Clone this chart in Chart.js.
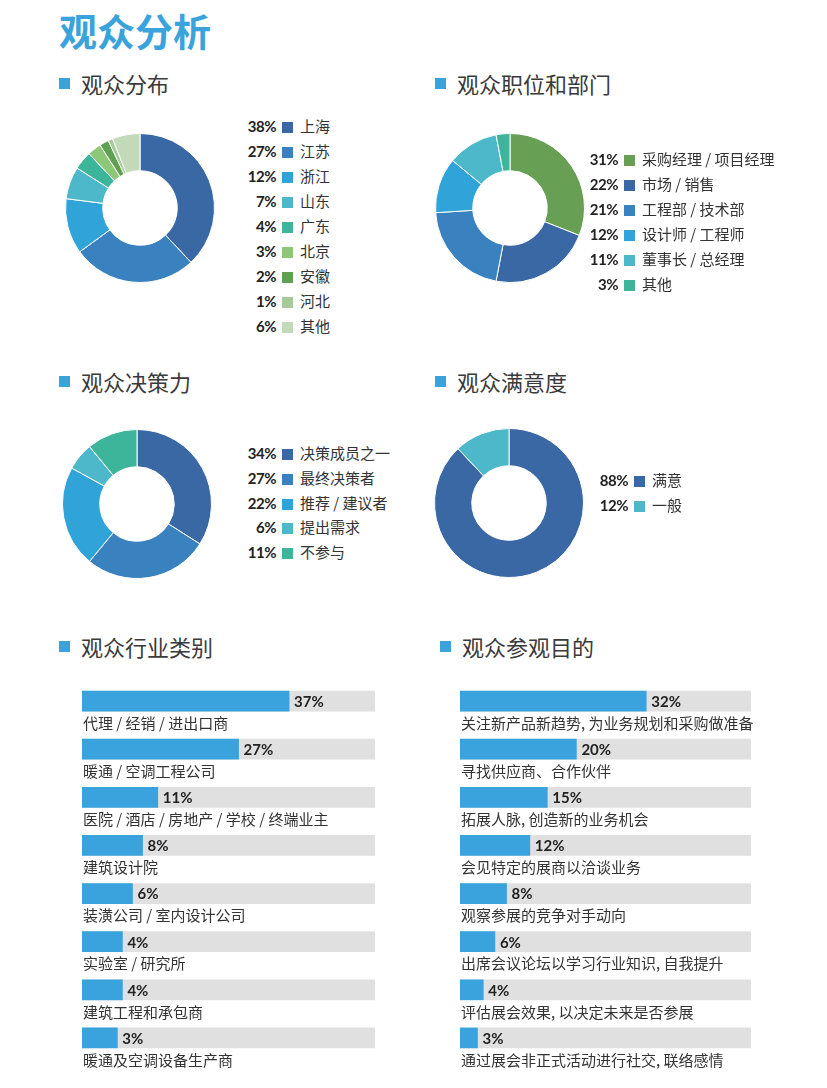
<!DOCTYPE html>
<html lang="zh-CN">
<head>
    <meta charset="UTF-8">
    <title>观众分析</title>
    <script src="https://cdn.jsdelivr.net/npm/chart.js"></script>
    <style>
        body { margin: 0; background: #fff; font-family: "Noto Sans CJK SC", "Noto Sans", sans-serif; color: #333; }
        #page { position: relative; width: 827px; height: 1088px; overflow: hidden; }
        .title { position: absolute; left: 59px; top: 11px; font-size: 38px; line-height: 38px; font-weight: 700; color: #3ba3dc; }
        .head { position: absolute; font-size: 22px; line-height: 22px; color: #3a3a3a; white-space: nowrap; }
        .head::before { content: ""; position: absolute; left: -22px; top: 6px; width: 11px; height: 11px; background: #3ba3dc; }
        .row { position: absolute; height: 20px; line-height: 20px; white-space: nowrap; font-size: 15px; }
        .row .pct { display: inline-block; width: 60px; text-align: right; font-family: Lato, sans-serif; font-weight: 700; color: #222; letter-spacing: -0.5px; }
        .row .sw { display: inline-block; width: 11px; height: 11px; margin-left: 6px; vertical-align: -1px; }
        .row .lab { margin-left: 7px; color: #333; }
        canvas { position: absolute; }
    </style>
</head>
<body>
<div id="page">
    <div class="title">观众分析</div>

    <div class="head" style="left:81px; top:72px;">观众分布</div>
    <div class="head" style="left:457px; top:72px;">观众职位和部门</div>
    <div class="head" style="left:81px; top:370px;">观众决策力</div>
    <div class="head" style="left:457px; top:370px;">观众满意度</div>
    <div class="head" style="left:81px; top:635px;">观众行业类别</div>
    <div class="head" style="left:462px; top:635px;">观众参观目的</div>

    <canvas id="regionChart" width="150" height="150" style="left:65px; top:133px;"></canvas>
    <canvas id="positionChart" width="150" height="150" style="left:435px; top:133px;"></canvas>
    <canvas id="decisionChart" width="150" height="150" style="left:62px; top:429px;"></canvas>
    <canvas id="satisfyChart" width="150" height="150" style="left:434px; top:428px;"></canvas>

    <canvas id="industryChart" width="300" height="407" style="left:82px; top:677px;"></canvas>
    <canvas id="purposeChart" width="300" height="407" style="left:460px; top:677px;"></canvas>
</div>

<script>
    // --- data ---
    const regionLabels = ['上海', '江苏', '浙江', '山东', '广东', '北京', '安徽', '河北', '其他'];
    const regionValues = [38, 27, 12, 7, 4, 3, 2, 1, 6];

    const positionLabels = ['采购经理 / 项目经理', '市场 / 销售', '工程部 / 技术部', '设计师 / 工程师', '董事长 / 总经理', '其他'];
    const positionValues = [31, 22, 21, 12, 11, 3];

    const decisionLabels = ['决策成员之一', '最终决策者', '推荐 / 建议者', '提出需求', '不参与'];
    const decisionValues = [34, 27, 22, 6, 11];

    const satisfyLabels = ['满意', '一般'];
    const satisfyValues = [88, 12];

    const industryLabels = ['代理 / 经销 / 进出口商', '暖通 / 空调工程公司', '医院 / 酒店 / 房地产 / 学校 / 终端业主',
        '建筑设计院', '装潢公司 / 室内设计公司', '实验室 / 研究所', '建筑工程和承包商', '暖通及空调设备生产商'];
    const industryValues = [37, 27, 11, 8, 6, 4, 4, 3];

    const purposeLabels = ['关注新产品新趋势, 为业务规划和采购做准备', '寻找供应商、合作伙伴', '拓展人脉, 创造新的业务机会',
        '会见特定的展商以洽谈业务', '观察参展的竞争对手动向', '出席会议论坛以学习行业知识, 自我提升',
        '评估展会效果, 以决定未来是否参展', '通过展会非正式活动进行社交, 联络感情'];
    const purposeValues = [32, 20, 15, 12, 8, 6, 4, 3];

    // --- colours ---
    const DARK = '#3a68a4', MID = '#3a82bf', BRIGHT = '#30a4d8', TEAL = '#4db8c9', SEA = '#3cb59a';
    const regionColors = [DARK, MID, BRIGHT, TEAL, SEA, '#8dc878', '#5fa052', '#a6cb98', '#c2dab7'];
    const positionColors = ['#67a055', DARK, MID, BRIGHT, TEAL, SEA];
    const decisionColors = [DARK, MID, BRIGHT, TEAL, SEA];
    const satisfyColors = [DARK, TEAL];
    const BAR_BLUE = '#3aa3dd', BAR_TRACK = '#e0e0e0';

    function donut(id, labels, values, colors) {
        new Chart(document.getElementById(id), {
            type: 'doughnut',
            data: {
                labels: labels,
                datasets: [{ data: values, backgroundColor: colors, borderColor: '#ffffff', borderWidth: 1 }]
            },
            options: {
                responsive: false,
                animation: false,
                cutout: '50%',
                layout: { padding: 0 },
                plugins: { legend: { display: false }, tooltip: { enabled: false } }
            }
        });
    }

    // legend: percent, swatch, label — pctRight is where the numbers end
    function legend(labels, values, colors, pctRight, y0, dy) {
        const page = document.getElementById('page');
        labels.forEach((lab, i) => {
            const row = document.createElement('div');
            row.className = 'row';
            row.style.left = (pctRight - 60) + 'px';
            row.style.top = Math.round(y0 + i * dy - 11) + 'px';
            row.innerHTML = `<span class="pct">${values[i]}%</span><span class="sw" style="background:${colors[i]}"></span><span class="lab">${lab}</span>`;
            page.appendChild(row);
        });
    }

    // percent after the bar, category name under it
    const barLabels = {
        id: 'barLabels',
        afterDatasetsDraw(chart) {
            const ctx = chart.ctx;
            const meta = chart.getDatasetMeta(0);
            const vals = chart.data.datasets[0].data;
            ctx.save();
            ctx.textAlign = 'left';
            ctx.textBaseline = 'middle';
            meta.data.forEach((bar, i) => {
                ctx.font = '700 15px Lato';
                ctx.fillStyle = '#222';
                ctx.fillText(vals[i] + '%', bar.x + 5, bar.y + 1);
                ctx.font = '15px "Noto Sans CJK SC"';
                ctx.fillStyle = '#333';
                ctx.fillText(chart.data.labels[i], chart.chartArea.left + 1, bar.y + 22);
            });
            ctx.restore();
        }
    };

    // track width on the canvas is width - right padding
    function bars(id, labels, values, min, max, trackWidth) {
        const canvas = document.getElementById(id);
        new Chart(canvas, {
            type: 'bar',
            data: {
                labels: labels,
                datasets: [
                    { data: values, backgroundColor: BAR_BLUE, barThickness: 20, grouped: false, base: min },
                    { data: values.map(() => max), backgroundColor: BAR_TRACK, barThickness: 20, grouped: false, base: min }
                ]
            },
            options: {
                indexAxis: 'y',
                responsive: false,
                animation: false,
                layout: { padding: { left: 0, top: 0, right: canvas.width - trackWidth, bottom: 22 } },
                plugins: { legend: { display: false }, tooltip: { enabled: false } },
                scales: {
                    x: { display: false, min: min, max: max },
                    y: { display: false }
                }
            },
            plugins: [barLabels]
        });
    }

    donut('regionChart', regionLabels, regionValues, regionColors);
    donut('positionChart', positionLabels, positionValues, positionColors);
    donut('decisionChart', decisionLabels, decisionValues, decisionColors);
    donut('satisfyChart', satisfyLabels, satisfyValues, satisfyColors);

    legend(regionLabels, regionValues, regionColors, 276, 127, 25);
    legend(positionLabels, positionValues, positionColors, 618, 160, 25);
    legend(decisionLabels, decisionValues, decisionColors, 276, 454, 24.8);
    legend(satisfyLabels, satisfyValues, satisfyColors, 628, 481, 25);

    bars('industryChart', industryLabels, industryValues, -4, 54, 293);
    bars('purposeChart', purposeLabels, purposeValues, 0, 50, 291);
</script>
</body>
</html>
